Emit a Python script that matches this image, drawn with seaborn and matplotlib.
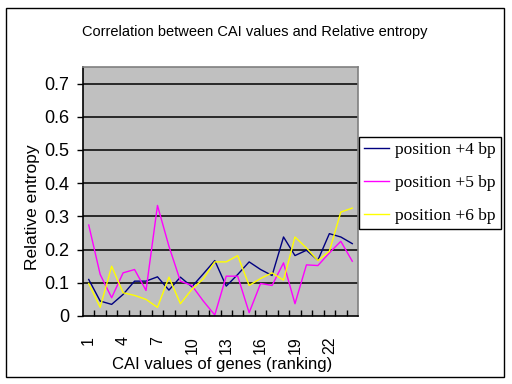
import numpy as np
import pandas as pd
import matplotlib
matplotlib.use("Agg")
import matplotlib.pyplot as plt
from matplotlib.patches import Rectangle
import seaborn as sns

ranking = list(range(1, 25))
pos4 = [0.110, 0.045, 0.035, 0.065, 0.105, 0.105, 0.118, 0.078, 0.117, 0.088, 0.127, 0.167,
        0.090, 0.125, 0.163, 0.140, 0.122, 0.238, 0.182, 0.198, 0.168, 0.248, 0.238, 0.218]
pos5 = [0.274, 0.125, 0.055, 0.130, 0.140, 0.077, 0.333, 0.210, 0.105, 0.092, 0.045, 0.003,
        0.120, 0.120, 0.010, 0.098, 0.092, 0.160, 0.037, 0.154, 0.152, 0.190, 0.225, 0.165]
pos6 = [0.098, 0.026, 0.150, 0.070, 0.062, 0.050, 0.026, 0.117, 0.037, 0.080, 0.112, 0.163,
        0.163, 0.182, 0.092, 0.113, 0.130, 0.108, 0.238, 0.205, 0.167, 0.195, 0.313, 0.325]
series_names = ["position +4 bp", "position +5 bp", "position +6 bp"]
series_colors = ["#000080", "#FF00FF", "#FFFF00"]
y_ticks = [0, 0.1, 0.2, 0.3, 0.4, 0.5, 0.6, 0.7]
y_ticklabels = ["0", "0.1", "0.2", "0.3", "0.4", "0.5", "0.6", "0.7"]
x_ticks = [1, 4, 7, 10, 13, 16, 19, 22]

title = "Correlation between CAI values and Relative entropy"
xlabel = "CAI values of genes (ranking)"
ylabel = "Relative entropy"

df = pd.DataFrame({
    "rank": ranking * 3,
    "value": pos4 + pos5 + pos6,
    "series": [series_names[0]] * 24 + [series_names[1]] * 24 + [series_names[2]] * 24,
})

plt.rcParams["font.family"] = ["Liberation Sans", "DejaVu Sans"]

fig = plt.figure(figsize=(5.12, 3.84), dpi=100)
fig.patch.set_facecolor("white")
ax = fig.add_axes([83 / 512, 1 - 316 / 384, 275 / 512, 249 / 384])
ax.set_facecolor("#C0C0C0")

sns.lineplot(data=df, x="rank", y="value", hue="series", palette=series_colors,
             hue_order=series_names, ax=ax, legend=False, linewidth=1.0, sort=False)

ax.set_xlim(0.5, 24.5)
ax.set_ylim(0, 0.75)
ax.set_yticks(y_ticks)
ax.set_yticklabels(y_ticklabels, fontsize=13)
for yv in y_ticks[1:]:
    ax.axhline(yv, color="black", lw=1.1, zorder=1)
ax.tick_params(axis="y", direction="out", length=4, width=1, pad=6, color="black")

ax.set_xticks(x_ticks)
ax.set_xticklabels([str(v) for v in x_ticks], rotation=90, fontsize=11.5)
ax.set_xticks(np.arange(1.5, 24.5, 1.0), minor=True)
ax.tick_params(axis="x", which="major", length=0, pad=14.5)
ax.tick_params(axis="x", which="minor", direction="in", length=4.5, width=1, color="black")

ax.set_xlabel("")
ax.set_ylabel("")
fig.text(222 / 512, 1 - 364 / 384, xlabel, ha="center", va="center", fontsize=12)
fig.text(32 / 512, 1 - 207 / 384, ylabel, ha="center", va="center", fontsize=12.5,
         rotation=90)

for s in ["left", "bottom"]:
    ax.spines[s].set_color("black")
    ax.spines[s].set_linewidth(1.2)
for s in ["top", "right"]:
    ax.spines[s].set_color("#808080")
    ax.spines[s].set_linewidth(1.2)

fig.text(255 / 512, 1 - 32 / 384, title, ha="center", va="center", fontsize=10.5)

handles = ax.get_lines()[:3]
leg = fig.legend(handles, series_names, loc="upper left",
                 bbox_to_anchor=(359 / 512, 1 - 137 / 384), borderaxespad=0,
                 frameon=True, fancybox=False, shadow=False, framealpha=1,
                 edgecolor="black", prop={"family": "Liberation Serif", "size": 12.5},
                 handlelength=1.45, handletextpad=0.35, labelspacing=0.95, borderpad=0.3)
leg.get_frame().set_linewidth(1.0)

fig.patches.append(Rectangle((5.5 / 512, 1 - 376.5 / 384), 498 / 512, 369 / 384,
                             transform=fig.transFigure, fill=False, edgecolor="black",
                             linewidth=1.0))

fig.savefig("out.png", dpi=100)
